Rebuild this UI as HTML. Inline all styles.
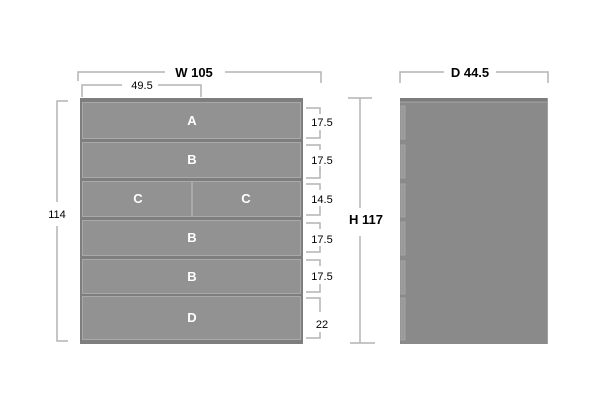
<!DOCTYPE html>
<html><head><meta charset="utf-8"><style>
html,body{margin:0;padding:0;background:#fff;width:600px;height:400px;overflow:hidden}
text{font-family:"Liberation Sans",sans-serif}
</style></head><body>
<svg width="600" height="400" viewBox="0 0 600 400" xmlns="http://www.w3.org/2000/svg">
<g fill="none" stroke="#b4b4b4" stroke-width="1.5">
<!-- W 105 -->
<polyline points="78,81 78,72 165,72"/>
<polyline points="225,72 321,72 321,83"/>
<!-- 49.5 -->
<polyline points="82,97 82,85 122,85"/>
<polyline points="158,85 201,85 201,97"/>
<!-- 114 -->
<polyline points="68,101 57,101 57,202"/>
<polyline points="57,226 57,341 68,341"/>
<!-- right segments -->
<polyline points="306,108 320,108 320,114"/>
<polyline points="320,130 320,138 306,138"/>
<polyline points="306,145 320,145 320,150"/>
<polyline points="320,166 320,178 306,178"/>
<polyline points="320,168 320,172"/>
<polyline points="306,184 320,184 320,190"/>
<polyline points="320,206 320,215 306,215"/>
<polyline points="306,223 320,223 320,229"/>
<polyline points="320,246 320,252 306,252"/>
<polyline points="306,260 320,260 320,266"/>
<polyline points="320,284 320,292 306,292"/>
<polyline points="306,298 320,298 320,312"/>
<polyline points="320,332 320,338 306,338"/>
<!-- H 117 -->
<line x1="348" y1="98" x2="372" y2="98"/>
<line x1="360" y1="98" x2="360" y2="208"/>
<line x1="360" y1="236" x2="360" y2="343"/>
<line x1="350" y1="343" x2="375" y2="343"/>
<!-- D 44.5 -->
<polyline points="400,83 400,72 444,72"/>
<polyline points="496,72 548,72 548,83"/>
</g>
<!-- cabinet front -->
<rect x="80" y="98" width="223" height="246" fill="#7e7e7e"/>
<g fill="#929292" stroke="#a9a9a9" stroke-width="1">
<rect x="82.5" y="102.5" width="218" height="36"/>
<rect x="82.5" y="142.5" width="218" height="35"/>
<rect x="82.5" y="181.5" width="109" height="35"/>
<rect x="192.5" y="181.5" width="108" height="35"/>
<rect x="82.5" y="220.5" width="218" height="35"/>
<rect x="82.5" y="259.5" width="218" height="34"/>
<rect x="82.5" y="296.5" width="218" height="43"/>
</g>
<!-- side -->
<rect x="400" y="98" width="148" height="246" fill="#8a8a8a"/>
<rect x="400" y="98" width="148" height="4" fill="#7c7c7c"/>
<line x1="400" y1="102" x2="548" y2="102" stroke="#a5a5a5"/>
<line x1="547.5" y1="98" x2="547.5" y2="344" stroke="#a0a0a0"/>
<g fill="#999" stroke="#a8a8a8" stroke-width="0.8">
<rect x="401" y="106" width="4" height="33"/>
<rect x="401" y="145" width="4" height="33"/>
<rect x="401" y="184" width="4" height="33"/>
<rect x="401" y="222" width="4" height="33"/>
<rect x="401" y="261" width="4" height="33"/>
<rect x="401" y="298" width="4" height="42"/>
</g>
<!-- labels -->
<g fill="#fff" font-weight="bold" font-size="13" text-anchor="middle">
<text x="192" y="125">A</text>
<text x="192" y="164">B</text>
<text x="138" y="203">C</text>
<text x="246" y="203">C</text>
<text x="192" y="242">B</text>
<text x="192" y="281">B</text>
<text x="192" y="322">D</text>
</g>
<g fill="#000" font-size="11" text-anchor="middle">
<text x="142" y="89">49.5</text>
<text x="57" y="218">114</text>
<text x="322" y="126">17.5</text>
<text x="322" y="164">17.5</text>
<text x="322" y="203">14.5</text>
<text x="322" y="243">17.5</text>
<text x="322" y="280">17.5</text>
<text x="322" y="328">22</text>
</g>
<g fill="#000" font-size="13" font-weight="bold" text-anchor="middle">
<text x="194" y="77">W 105</text>
<text x="470" y="77">D 44.5</text>
<text x="366" y="224">H 117</text>
</g>
</svg>
</body></html>
